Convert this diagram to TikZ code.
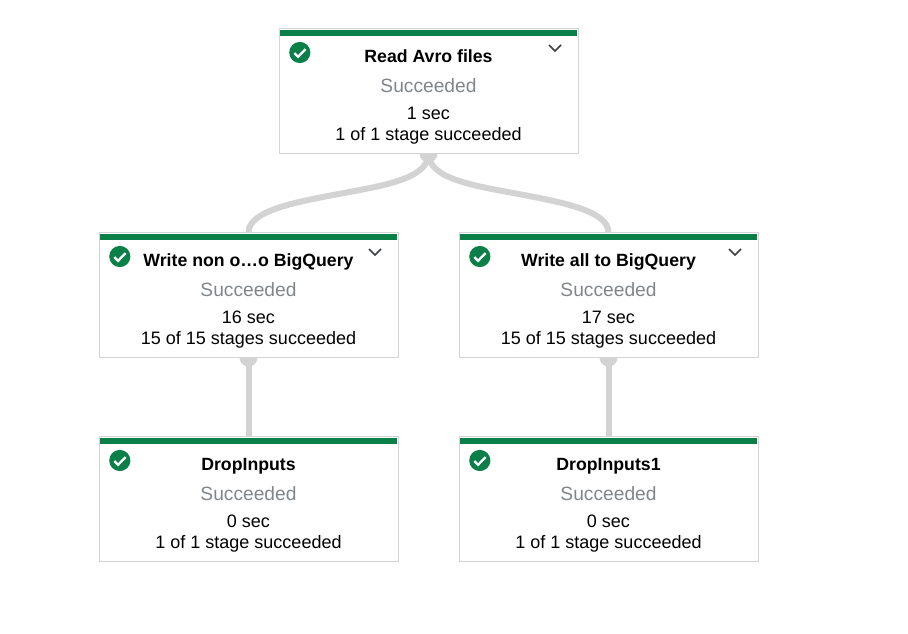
\documentclass[tikz,border=0pt]{standalone}
\usepackage{fontspec}
\setmainfont{Liberation Sans}
\usetikzlibrary{backgrounds,calc}
\definecolor{cardgreen}{HTML}{0A8048}
\definecolor{cardborder}{HTML}{D4D4D4}
\definecolor{linkgrey}{HTML}{D3D3D3}
\definecolor{statusgrey}{HTML}{80868B}
\definecolor{chevgrey}{HTML}{3C4043}
\tikzset{
  cardbox/.style={draw=cardborder,line width=1pt,fill=white,minimum width=299,minimum height=125,inner sep=0,outer sep=0},
  titletxt/.style={font=\fontsize{17.7}{20}\selectfont\bfseries,text=black,inner sep=0,anchor=base},
  statustxt/.style={font=\fontsize{19.2}{20}\selectfont,text=statusgrey,inner sep=0,anchor=base},
  infotxt/.style={font=\fontsize{18}{20}\selectfont,text=black,inner sep=0,anchor=base},
  linkline/.style={draw=linkgrey,line width=6pt},
  linkdot/.style={fill=linkgrey},
}
% #1 name, #2 x-centre, #3 top y, #4 title, #5 time, #6 stages, #7 chevron (1/0)
\newcommand{\jobcard}[7]{%
  \node[cardbox,anchor=north] (#1) at (#2,#3) {};
  \fill[cardgreen] ([xshift=1.2,yshift=-1.2]#1.north west) rectangle ([xshift=-1.2,yshift=-7.8]#1.north east);
  \fill[cardgreen] ([xshift=20.8,yshift=-24]#1.north west) circle (10.6);
  \draw[white,line width=2.3pt] ([xshift=15.3,yshift=-24.5]#1.north west) -- ([xshift=19.1,yshift=-28.3]#1.north west) -- ([xshift=26.6,yshift=-20.6]#1.north west);
  \ifnum#7=1
    \draw[chevgrey,line width=1.5pt] ([xshift=-29,yshift=-16.5]#1.north east) -- ([xshift=-23,yshift=-22.5]#1.north east) -- ([xshift=-17,yshift=-16.5]#1.north east);
  \fi
  \node[titletxt] (#1title) at ([yshift=-34]#1.north) {#4};
  \node[statustxt] (#1status) at ([yshift=-64]#1.north) {Succeeded};
  \node[infotxt] (#1time) at ([yshift=-90.7]#1.north) {#5};
  \node[infotxt] (#1stages) at ([yshift=-111.7]#1.north) {#6};
}
\begin{document}
\begin{tikzpicture}[x=1pt,y=-1pt]
\useasboundingbox (0,0) rectangle (908,634);
\jobcard{read}{428.5}{28.5}{Read Avro files}{1 sec}{1 of 1 stage succeeded}{1}
\jobcard{nonbq}{248.5}{232.5}{Write non o…o BigQuery}{16 sec}{15 of 15 stages succeeded}{1}
\jobcard{allbq}{608.5}{232.5}{Write all to BigQuery}{17 sec}{15 of 15 stages succeeded}{1}
\jobcard{drop}{248.5}{436.5}{DropInputs}{0 sec}{1 of 1 stage succeeded}{0}
\jobcard{dropone}{608.5}{436.5}{DropInputs1}{0 sec}{1 of 1 stage succeeded}{0}
\begin{pgfonlayer}{background}
  \fill[white] (0,0) rectangle (908,634);
  \foreach \n in {read,nonbq,allbq}{
    \fill[linkdot] (\n.south) circle (9);
  }
  \draw[linkline] (read.south) .. controls +(0,26) and +(42,-8) .. ([yshift=-1]$(read.south)!0.5!(nonbq.north)$) .. controls +(-42,8) and +(0,-22) .. (nonbq.north);
  \draw[linkline] (read.south) .. controls +(0,26) and +(-42,-8) .. ([yshift=-1]$(read.south)!0.5!(allbq.north)$) .. controls +(42,8) and +(0,-22) .. (allbq.north);
  \draw[linkline] (nonbq.south) -- (drop.north);
  \draw[linkline] (allbq.south) -- (dropone.north);
\end{pgfonlayer}
\end{tikzpicture}
\end{document}
